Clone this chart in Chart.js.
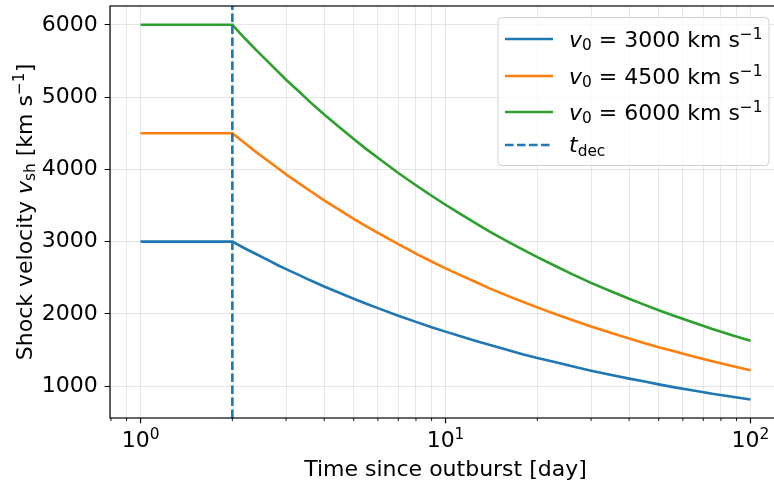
<!DOCTYPE html>
<html>
<head>
<meta charset="utf-8">
<script src="https://cdn.jsdelivr.net/npm/chart.js@4.4.1/dist/chart.umd.min.js"></script>
<style>
  html, body { margin: 0; padding: 0; background: #fff; overflow: hidden; }
  #wrap { width: 774px; height: 482px; overflow: hidden; }
</style>
</head>
<body>
<div id="wrap"><canvas id="vsh" width="782" height="482"></canvas></div>
<script>
// time since outburst [day]
const days = [1, 2, 2.2, 2.4, 2.6, 2.8, 3, 3.3, 3.6, 4, 4.5, 5, 5.5, 6, 7, 8, 9, 10, 11, 12.5, 14, 16, 18, 20, 23, 26, 30, 35, 40, 45, 50, 57, 65, 75, 87, 100];
// shock velocity [km/s] for the three initial velocities
const vsh3000 = [3000, 3000, 2905, 2825, 2750, 2680, 2620, 2540, 2465, 2380, 2290, 2210, 2140, 2080, 1975, 1890, 1815, 1755, 1700, 1630, 1570, 1500, 1440, 1390, 1330, 1275, 1215, 1155, 1105, 1065, 1025, 980, 940, 895, 855, 815];
const vsh4500 = [4500, 4500, 4360, 4235, 4125, 4025, 3930, 3810, 3700, 3570, 3435, 3315, 3210, 3120, 2965, 2835, 2725, 2630, 2550, 2445, 2350, 2250, 2165, 2090, 1995, 1915, 1825, 1735, 1660, 1595, 1540, 1475, 1410, 1345, 1280, 1220];
const vsh6000 = [6000, 6000, 5810, 5645, 5500, 5365, 5240, 5080, 4930, 4760, 4580, 4420, 4280, 4160, 3950, 3780, 3635, 3510, 3400, 3260, 3135, 3000, 2885, 2785, 2660, 2550, 2430, 2310, 2210, 2125, 2050, 1965, 1880, 1790, 1705, 1630];
// deceleration time [day]
const tDec = 2;

const xMajorTicks = [1, 10, 100];
const xMinorTicks = [0.8, 0.9, 2, 3, 4, 5, 6, 7, 8, 9, 20, 30, 40, 50, 60, 70, 80, 90];
const yTicks = [1000, 2000, 3000, 4000, 5000, 6000];

const FONT = 'DejaVu Sans';
const FS = 22;
const GRID = 'rgba(176,176,176,0.3)';
const series = [
  { v: vsh3000, color: '#1f77b4' },
  { v: vsh4500, color: '#ff7f0e' },
  { v: vsh6000, color: '#2ca02c' }
];
const LW = 2.6;

// mixed-style text: runs of [text, kind], kind = 'r' | 'i' | 'sub' | 'sup'
function runFont(kind, size) {
  const s = (kind === 'sub' || kind === 'sup') ? size * 0.7 : size;
  return (kind === 'i' ? 'italic ' : '') + s + 'px "' + FONT + '"';
}
function richWidth(ctx, runs, size) {
  let w = 0;
  for (const [t, k] of runs) { ctx.font = runFont(k, size); w += ctx.measureText(t).width; }
  return w;
}
function drawRich(ctx, runs, x, y, size, align) {
  let cx = x;
  if (align === 'center') cx -= richWidth(ctx, runs, size) / 2;
  ctx.textAlign = 'left';
  ctx.textBaseline = 'alphabetic';
  for (const [t, k] of runs) {
    ctx.font = runFont(k, size);
    let dy = 0;
    if (k === 'sub') dy = 0.18 * size;
    if (k === 'sup') dy = -0.34 * size;
    ctx.fillText(t, cx, y + dy);
    cx += ctx.measureText(t).width;
  }
}

const decor = {
  id: 'decor',
  afterDatasetsDraw(chart) {
    const { ctx, chartArea: a, scales: { x } } = chart;
    const px = x.getPixelForValue(tDec);
    ctx.save();
    ctx.beginPath();
    ctx.rect(a.left, a.top, a.right - a.left, a.bottom - a.top);
    ctx.clip();
    ctx.strokeStyle = series[0].color;
    ctx.lineWidth = LW;
    ctx.setLineDash([8.5, 3.5]);
    ctx.beginPath();
    ctx.moveTo(px, a.bottom);
    ctx.lineTo(px, a.top);
    ctx.stroke();
    ctx.restore();
  },
  afterDraw(chart) {
    const { ctx, chartArea: a, scales: { x } } = chart;
    ctx.save();
    ctx.fillStyle = '#000';
    ctx.strokeStyle = '#000';

    // frame
    ctx.lineWidth = 1.2;
    ctx.strokeRect(a.left, a.top, a.right - a.left, a.bottom - a.top);

    // x ticks and labels
    ctx.lineWidth = 1.2;
    for (const v of xMajorTicks) {
      const px = x.getPixelForValue(v);
      ctx.beginPath(); ctx.moveTo(px, a.bottom); ctx.lineTo(px, a.bottom + 5.3); ctx.stroke();
      drawRich(ctx, [['10', 'r'], [String(Math.round(Math.log10(v))), 'sup']], px, a.bottom + 28.5, FS, 'center');
    }
    ctx.lineWidth = 0.9;
    for (const v of xMinorTicks) {
      const px = x.getPixelForValue(v);
      ctx.beginPath(); ctx.moveTo(px, a.bottom); ctx.lineTo(px, a.bottom + 3); ctx.stroke();
    }

    // axis titles
    drawRich(ctx, [['Time since outburst [day]', 'r']], (a.left + a.right) / 2, 476, FS, 'center');
    ctx.save();
    ctx.translate(31.5, (a.top + a.bottom) / 2);
    ctx.rotate(-Math.PI / 2);
    drawRich(ctx, [['Shock velocity ', 'r'], ['v', 'i'], ['sh', 'sub'], [' [km s', 'r'], ['\u22121', 'sup'], [']', 'r']], 0, 0, FS, 'center');
    ctx.restore();

    // legend
    const bx = 498, by = 17.5, bw = 271, bh = 148, r = 4;
    ctx.beginPath();
    ctx.roundRect(bx, by, bw, bh, r);
    ctx.fillStyle = 'rgba(255,255,255,0.8)';
    ctx.fill();
    ctx.strokeStyle = '#d0d0d0';
    ctx.lineWidth = 1;
    ctx.stroke();
    const rows = [39, 76, 112];
    series.forEach((s, i) => {
      ctx.strokeStyle = s.color;
      ctx.lineWidth = LW;
      ctx.beginPath(); ctx.moveTo(505, rows[i]); ctx.lineTo(553, rows[i]); ctx.stroke();
      ctx.fillStyle = '#000';
      drawRich(ctx, [['v', 'i'], ['0', 'sub'], [' = ' + s.v[0] + ' km s', 'r'], ['\u22121', 'sup']], 569, rows[i] + 7.5, FS, 'left');
    });
    ctx.strokeStyle = series[0].color;
    ctx.setLineDash([8.5, 3.5]);
    ctx.beginPath(); ctx.moveTo(505, 145); ctx.lineTo(553, 145); ctx.stroke();
    ctx.setLineDash([]);
    ctx.fillStyle = '#000';
    drawRich(ctx, [['t', 'i'], ['dec', 'sub']], 569, 152, FS, 'left');

    ctx.restore();
  }
};

new Chart(document.getElementById('vsh'), {
  type: 'line',
  data: {
    datasets: series.map(s => ({
      label: 'v0 = ' + s.v[0],
      data: days.map((d, i) => ({ x: d, y: s.v[i] })),
      borderColor: s.color,
      borderWidth: LW,
      pointRadius: 0,
      tension: 0,
      fill: false
    }))
  },
  options: {
    responsive: false,
    animation: false,
    devicePixelRatio: 1,
    layout: { padding: { left: 0, top: 6, right: 1, bottom: 0 } },
    plugins: { legend: { display: false }, tooltip: { enabled: false } },
    scales: {
      x: {
        type: 'logarithmic',
        min: 0.794,
        max: 125.9,
        afterBuildTicks: s => { s.ticks = xMinorTicks.concat(xMajorTicks).sort((a, b) => a - b).map(v => ({ value: v })); },
        afterFit: s => { s.height = 64; s.paddingLeft = 0; s.paddingRight = 0; },
        grid: { color: GRID, lineWidth: 1, drawTicks: false },
        border: { display: false },
        ticks: { display: false }
      },
      y: {
        min: 560,
        max: 6260,
        afterBuildTicks: s => { s.ticks = yTicks.map(v => ({ value: v })); },
        afterFit: s => { s.width = 110; s.paddingTop = 0; s.paddingBottom = 0; },
        grid: { color: GRID, lineWidth: 1, tickColor: '#000', tickLength: 5.3 },
        border: { display: false },
        ticks: { font: { family: FONT, size: FS }, color: '#000', padding: 7, callback: v => String(v) }
      }
    }
  },
  plugins: [decor]
});
</script>
</body>
</html>
